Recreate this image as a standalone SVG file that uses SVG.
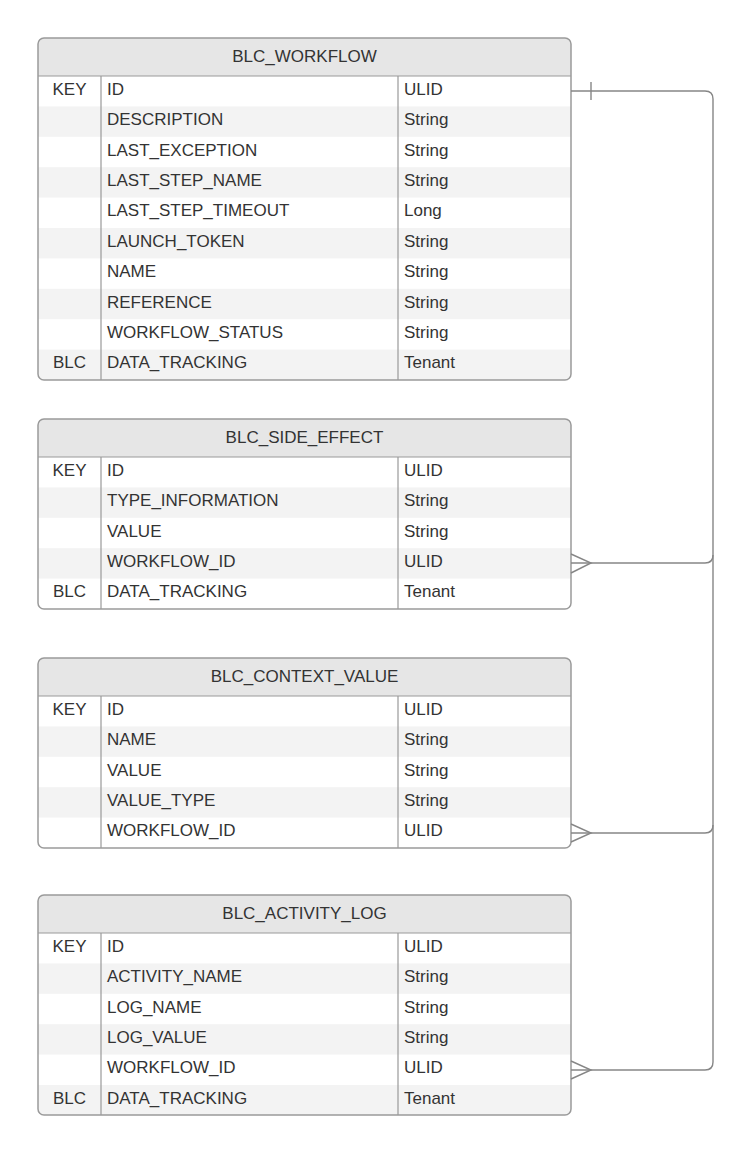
<svg xmlns="http://www.w3.org/2000/svg" width="752" height="1154" viewBox="0 0 752 1154">
<style>
  text { font-family: "Liberation Sans", Arial, sans-serif; font-size: 17px; fill: #333333; }
  .title { text-anchor: middle; }
  .key { text-anchor: middle; }
  .hdr { fill: #e6e6e6; }
  .stripe { fill: #f3f3f3; }
  .frame { fill: none; stroke: #9a9a9a; stroke-width: 1.5; }
  .div { stroke: #9a9a9a; stroke-width: 1.2; fill: none; }
  .conn { fill: none; stroke: #868686; stroke-width: 1.4; }
</style>
<defs>
  <clipPath id="c1"><rect x="38" y="38" width="533" height="342" rx="6"/></clipPath>
  <clipPath id="c2"><rect x="38" y="419" width="533" height="190" rx="6"/></clipPath>
  <clipPath id="c3"><rect x="38" y="658" width="533" height="190" rx="6"/></clipPath>
  <clipPath id="c4"><rect x="38" y="895" width="533" height="220" rx="6"/></clipPath>
</defs>
<rect width="752" height="1154" fill="#ffffff"/>

<g id="blc_workflow">
  <g clip-path="url(#c1)">
    <rect class="hdr" x="38" y="38" width="533" height="38"/>
    <rect class="stripe" x="38" y="106.4" width="533" height="30.4"/>
    <rect class="stripe" x="38" y="167.2" width="533" height="30.4"/>
    <rect class="stripe" x="38" y="228" width="533" height="30.4"/>
    <rect class="stripe" x="38" y="288.8" width="533" height="30.4"/>
    <rect class="stripe" x="38" y="349.6" width="533" height="30.4"/>
  </g>
  <path class="div" d="M38,76 H571 M101,76 V380 M398,76 V380"/>
  <rect class="frame" x="38" y="38" width="533" height="342" rx="6"/>
  <text class="title" x="304.5" y="61.5">BLC_WORKFLOW</text>
  <text class="key" x="69.5" y="94.8">KEY</text>
  <text x="107" y="94.8">ID</text><text x="404" y="94.8">ULID</text>
  <text x="107" y="125.2">DESCRIPTION</text><text x="404" y="125.2">String</text>
  <text x="107" y="155.6">LAST_EXCEPTION</text><text x="404" y="155.6">String</text>
  <text x="107" y="186">LAST_STEP_NAME</text><text x="404" y="186">String</text>
  <text x="107" y="216.4">LAST_STEP_TIMEOUT</text><text x="404" y="216.4">Long</text>
  <text x="107" y="246.8">LAUNCH_TOKEN</text><text x="404" y="246.8">String</text>
  <text x="107" y="277.2">NAME</text><text x="404" y="277.2">String</text>
  <text x="107" y="307.6">REFERENCE</text><text x="404" y="307.6">String</text>
  <text x="107" y="338">WORKFLOW_STATUS</text><text x="404" y="338">String</text>
  <text class="key" x="69.5" y="368.4">BLC</text>
  <text x="107" y="368.4">DATA_TRACKING</text><text x="404" y="368.4">Tenant</text>
</g>

<g id="blc_side_effect">
  <g clip-path="url(#c2)">
    <rect class="hdr" x="38" y="419" width="533" height="38"/>
    <rect class="stripe" x="38" y="487.4" width="533" height="30.4"/>
    <rect class="stripe" x="38" y="548.2" width="533" height="30.4"/>
  </g>
  <path class="div" d="M38,457 H571 M101,457 V609 M398,457 V609"/>
  <rect class="frame" x="38" y="419" width="533" height="190" rx="6"/>
  <text class="title" x="304.5" y="442.5">BLC_SIDE_EFFECT</text>
  <text class="key" x="69.5" y="475.8">KEY</text>
  <text x="107" y="475.8">ID</text><text x="404" y="475.8">ULID</text>
  <text x="107" y="506.2">TYPE_INFORMATION</text><text x="404" y="506.2">String</text>
  <text x="107" y="536.6">VALUE</text><text x="404" y="536.6">String</text>
  <text x="107" y="567">WORKFLOW_ID</text><text x="404" y="567">ULID</text>
  <text class="key" x="69.5" y="597.4">BLC</text>
  <text x="107" y="597.4">DATA_TRACKING</text><text x="404" y="597.4">Tenant</text>
</g>

<g id="blc_context_value">
  <g clip-path="url(#c3)">
    <rect class="hdr" x="38" y="658" width="533" height="38"/>
    <rect class="stripe" x="38" y="726.4" width="533" height="30.4"/>
    <rect class="stripe" x="38" y="787.2" width="533" height="30.4"/>
  </g>
  <path class="div" d="M38,696 H571 M101,696 V848 M398,696 V848"/>
  <rect class="frame" x="38" y="658" width="533" height="190" rx="6"/>
  <text class="title" x="304.5" y="681.5">BLC_CONTEXT_VALUE</text>
  <text class="key" x="69.5" y="714.8">KEY</text>
  <text x="107" y="714.8">ID</text><text x="404" y="714.8">ULID</text>
  <text x="107" y="745.2">NAME</text><text x="404" y="745.2">String</text>
  <text x="107" y="775.6">VALUE</text><text x="404" y="775.6">String</text>
  <text x="107" y="806">VALUE_TYPE</text><text x="404" y="806">String</text>
  <text x="107" y="836.4">WORKFLOW_ID</text><text x="404" y="836.4">ULID</text>
</g>

<g id="blc_activity_log">
  <g clip-path="url(#c4)">
    <rect class="hdr" x="38" y="895" width="533" height="38"/>
    <rect class="stripe" x="38" y="963.4" width="533" height="30.4"/>
    <rect class="stripe" x="38" y="1024.2" width="533" height="30.4"/>
    <rect class="stripe" x="38" y="1085" width="533" height="30"/>
  </g>
  <path class="div" d="M38,933 H571 M101,933 V1115 M398,933 V1115"/>
  <rect class="frame" x="38" y="895" width="533" height="220" rx="6"/>
  <text class="title" x="304.5" y="918.5">BLC_ACTIVITY_LOG</text>
  <text class="key" x="69.5" y="951.8">KEY</text>
  <text x="107" y="951.8">ID</text><text x="404" y="951.8">ULID</text>
  <text x="107" y="982.2">ACTIVITY_NAME</text><text x="404" y="982.2">String</text>
  <text x="107" y="1012.6">LOG_NAME</text><text x="404" y="1012.6">String</text>
  <text x="107" y="1043">LOG_VALUE</text><text x="404" y="1043">String</text>
  <text x="107" y="1073.4">WORKFLOW_ID</text><text x="404" y="1073.4">ULID</text>
  <text class="key" x="69.5" y="1103.8">BLC</text>
  <text x="107" y="1103.8">DATA_TRACKING</text><text x="404" y="1103.8">Tenant</text>
</g>

<g id="connectors">
  <path class="conn" d="M571,91 H705 Q713,91 713,99 V555 Q713,563 705,563 H571"/>
  <path class="conn" d="M713,555 V825 Q713,833 705,833 H571"/>
  <path class="conn" d="M713,825 V1062 Q713,1070 705,1070 H571"/>
  <path class="conn" d="M591,82 V100"/>
  <path class="conn" d="M571,554 L591,563 L571,573"/>
  <path class="conn" d="M571,824 L591,833 L571,842"/>
  <path class="conn" d="M571,1061 L591,1070 L571,1079"/>
</g>
</svg>
